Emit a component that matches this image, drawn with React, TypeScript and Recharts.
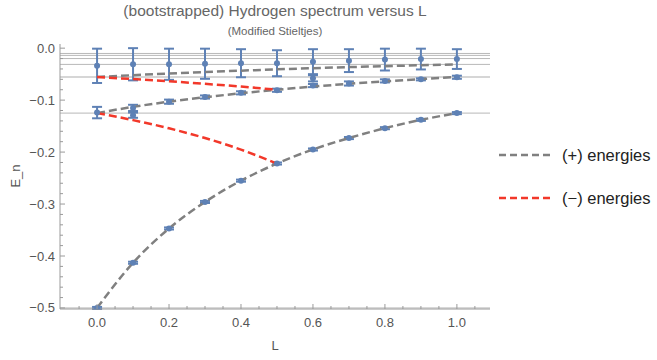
import React from "react";
import {
  ComposedChart,
  Line,
  Scatter,
  ErrorBar,
  XAxis,
  YAxis,
  ReferenceLine,
} from "recharts";

// L grid for the curves
const lValues = [0, 0.1, 0.2, 0.3, 0.4, 0.5, 0.6, 0.7, 0.8, 0.9, 1.0];
const lHalf = [0, 0.1, 0.2, 0.3, 0.4, 0.5];

// (+) energies, three branches
const plusFirst = [-0.5, -0.413, -0.347, -0.296, -0.255, -0.222, -0.195, -0.173, -0.154, -0.138, -0.125];
const plusSecond = [-0.125, -0.113, -0.103, -0.0945, -0.0868, -0.08, -0.074, -0.0686, -0.0638, -0.0595, -0.0556];
const plusThird = [-0.0556, -0.052, -0.0488, -0.0459, -0.0433, -0.0408, -0.0386, -0.0365, -0.0346, -0.0329, -0.0313];

// (-) energies, only up to L = 0.5
const minusFirst = [-0.125, -0.1385, -0.1543, -0.173, -0.1953, -0.2222];
const minusSecond = [-0.0556, -0.0595, -0.0638, -0.0686, -0.074, -0.08];

// bootstrapped points with error bars
const pointL = [
  0, 0.1, 0.2, 0.3, 0.4, 0.5, 0.6, 0.7, 0.8, 0.9, 1.0,
  0, 0.1, 0.1, 0.2, 0.3, 0.4, 0.5, 0.6, 0.6, 0.7, 0.8, 0.9, 1.0,
  0, 0.1, 0.2, 0.3, 0.4, 0.5, 0.6, 0.7, 0.8, 0.9, 1.0,
];
const pointE = [
  -0.034, -0.031, -0.031, -0.03, -0.029, -0.029, -0.026, -0.024, -0.022, -0.021, -0.021,
  -0.124, -0.115, -0.129, -0.103, -0.094, -0.086, -0.081, -0.058, -0.072, -0.068, -0.063, -0.06, -0.056,
  -0.5, -0.413, -0.347, -0.296, -0.255, -0.222, -0.195, -0.173, -0.154, -0.138, -0.125,
];
const pointErr = [
  0.033, 0.031, 0.03, 0.029, 0.027, 0.025, 0.024, 0.022, 0.021, 0.02, 0.019,
  0.011, 0.006, 0.005, 0.004, 0.003, 0.003, 0.003, 0.006, 0.003, 0.004, 0.003, 0.002, 0.003,
  0.002, 0.002, 0.002, 0.002, 0.002, 0.002, 0.002, 0.002, 0.002, 0.002, 0.002,
];

// hydrogen levels drawn as thin horizontal lines
const levels = [-0.5, -0.125, -0.0556, -0.03125, -0.02, -0.0139, -0.0102];

const xTicks = [-0.05, 0, 0.05, 0.1, 0.15, 0.2, 0.25, 0.3, 0.35, 0.4, 0.45, 0.5, 0.55, 0.6, 0.65, 0.7, 0.75, 0.8, 0.85, 0.9, 0.95, 1.0, 1.05];
const yTicks = [
  -0.5, -0.48, -0.46, -0.44, -0.42, -0.4, -0.38, -0.36, -0.34, -0.32, -0.3, -0.28, -0.26, -0.24, -0.22,
  -0.2, -0.18, -0.16, -0.14, -0.12, -0.1, -0.08, -0.06, -0.04, -0.02, 0,
];

const toRows = (xs: number[], ys: number[]) => xs.map((L, i) => ({ L, E: ys[i] }));
const points = pointL.map((L, i) => ({ L, E: pointE[i], err: pointErr[i] }));

const W = 657;
const H = 360;
const TOP = 44;
const BOTTOM = 309;
const LEFT = 60;
const RIGHT = 490;

const AXIS = "#9a9a9a";
const LABEL = "#555";
const FONT = "'Liberation Sans', Arial, sans-serif";
const BLUE = "#5e81b5";
const GRAY = "#808080";
const RED = "#f2382a";

const isMajorX = (v: number) => Math.abs(v * 5 - Math.round(v * 5)) < 1e-6;
const isMajorY = (v: number) => Math.abs(v * 10 - Math.round(v * 10)) < 1e-6;
const fmt = (v: number) => (Math.abs(v) < 1e-9 ? "0.0" : v.toFixed(1).replace("-", "\u2212"));

const BottomTick = (props: any) => {
  const { x, payload } = props;
  const major = isMajorX(payload.value);
  return (
    <g>
      <line x1={x} x2={x} y1={BOTTOM} y2={BOTTOM - (major ? 5 : 3)} stroke={AXIS} />
      {major && (
        <text x={x} y={BOTTOM + 18} textAnchor="middle" fontSize={13} fill={LABEL} fontFamily={FONT}>
          {fmt(payload.value)}
        </text>
      )}
    </g>
  );
};

const TopTick = (props: any) => {
  const { x, payload } = props;
  const major = isMajorX(payload.value);
  return <line x1={x} x2={x} y1={TOP} y2={TOP + (major ? 5 : 3)} stroke={AXIS} />;
};

const LeftTick = (props: any) => {
  const { y, payload } = props;
  const major = isMajorY(payload.value);
  return (
    <g>
      <line x1={LEFT} x2={LEFT + (major ? 5 : 3)} y1={y} y2={y} stroke={AXIS} />
      {major && (
        <text x={LEFT - 5} y={y + 4.5} textAnchor="end" fontSize={13} fill={LABEL} fontFamily={FONT}>
          {fmt(payload.value)}
        </text>
      )}
    </g>
  );
};

const RightTick = (props: any) => {
  const { y, payload } = props;
  const major = isMajorY(payload.value);
  return <line x1={RIGHT} x2={RIGHT - (major ? 5 : 3)} y1={y} y2={y} stroke={AXIS} />;
};

const Dot = (props: any) => <circle cx={props.cx} cy={props.cy} r={3} fill={BLUE} />;

export default function App() {
  return (
    <div style={{ position: "absolute", left: 0, top: 0, width: W, height: H, fontFamily: FONT }}>
      <ComposedChart
        width={W}
        height={H}
        margin={{ top: TOP, right: W - RIGHT, bottom: 6, left: 0 }}
      >
        <XAxis
          xAxisId="b"
          dataKey="L"
          type="number"
          domain={[-0.103, 1.092]}
          ticks={xTicks}
          interval={0}
          tick={<BottomTick />}
          tickLine={false}
          stroke={AXIS}
          height={45}
          allowDataOverflow
        />
        <XAxis
          xAxisId="t"
          orientation="top"
          dataKey="L"
          type="number"
          domain={[-0.103, 1.092]}
          ticks={xTicks}
          interval={0}
          tick={<TopTick />}
          tickLine={false}
          stroke={AXIS}
          height={0}
          allowDataOverflow
        />
        <YAxis
          yAxisId="l"
          type="number"
          domain={[-0.502, 0.008]}
          ticks={yTicks}
          interval={0}
          tick={<LeftTick />}
          tickLine={false}
          stroke={AXIS}
          width={LEFT}
          allowDataOverflow
        />
        <YAxis
          yAxisId="r"
          orientation="right"
          type="number"
          domain={[-0.502, 0.008]}
          ticks={yTicks}
          interval={0}
          tick={<RightTick />}
          tickLine={false}
          stroke={AXIS}
          width={0}
          allowDataOverflow
        />
        {levels.map((v) => (
          <ReferenceLine
            key={v}
            xAxisId="b"
            yAxisId="l"
            y={v}
            stroke={v === -0.0556 ? "#d6d6d6" : "#b8b8b8"}
            strokeWidth={v === -0.0556 ? 2 : 1}
          />
        ))}
        <Scatter
          xAxisId="b"
          yAxisId="l"
          data={points}
          dataKey="E"
          shape={<Dot />}
          isAnimationActive={false}
        >
          <ErrorBar dataKey="err" direction="y" stroke={BLUE} strokeWidth={2} width={5} />
        </Scatter>
        <Line xAxisId="b" yAxisId="l" data={toRows(lValues, plusFirst)} dataKey="E" type="monotone" stroke={GRAY} strokeWidth={2.5} strokeDasharray="8 4" dot={false} isAnimationActive={false} />
        <Line xAxisId="b" yAxisId="l" data={toRows(lValues, plusSecond)} dataKey="E" type="monotone" stroke={GRAY} strokeWidth={2.5} strokeDasharray="8 4" dot={false} isAnimationActive={false} />
        <Line xAxisId="b" yAxisId="l" data={toRows(lValues, plusThird)} dataKey="E" type="monotone" stroke={GRAY} strokeWidth={2.5} strokeDasharray="8 4" dot={false} isAnimationActive={false} />
        <Line xAxisId="b" yAxisId="l" data={toRows(lHalf, minusFirst)} dataKey="E" type="monotone" stroke={RED} strokeWidth={2.5} strokeDasharray="8 4" dot={false} isAnimationActive={false} />
        <Line xAxisId="b" yAxisId="l" data={toRows(lHalf, minusSecond)} dataKey="E" type="monotone" stroke={RED} strokeWidth={2.5} strokeDasharray="8 4" dot={false} isAnimationActive={false} />
      </ComposedChart>

      <div style={{ position: "absolute", left: 275, top: 11, transform: "translate(-50%, -50%)", fontSize: 15.5, color: "#666", whiteSpace: "nowrap" }}>
        (bootstrapped) Hydrogen spectrum versus L
      </div>
      <div style={{ position: "absolute", left: 275, top: 31, transform: "translate(-50%, -50%)", fontSize: 11.5, color: "#666", whiteSpace: "nowrap" }}>
        (Modified Stieltjes)
      </div>
      <div style={{ position: "absolute", left: 15, top: 176, transform: "translate(-50%, -50%) rotate(-90deg)", fontSize: 13, color: LABEL, whiteSpace: "nowrap" }}>
        E_n
      </div>
      <div style={{ position: "absolute", left: 275, top: 345, transform: "translate(-50%, -50%)", fontSize: 13, color: LABEL }}>
        L
      </div>

      <svg style={{ position: "absolute", left: 495, top: 140 }} width={60} height={70}>
        <line x1={4} x2={55} y1={15} y2={15} stroke={GRAY} strokeWidth={2.5} strokeDasharray="7 4" />
        <line x1={4} x2={55} y1={58} y2={58} stroke={RED} strokeWidth={2.5} strokeDasharray="7 4" />
      </svg>
      <div style={{ position: "absolute", left: 562, top: 155, transform: "translateY(-50%)", fontSize: 16.5, color: "#222", whiteSpace: "nowrap" }}>
        (+) energies
      </div>
      <div style={{ position: "absolute", left: 562, top: 198, transform: "translateY(-50%)", fontSize: 16.5, color: "#222", whiteSpace: "nowrap" }}>
        (−) energies
      </div>
    </div>
  );
}
